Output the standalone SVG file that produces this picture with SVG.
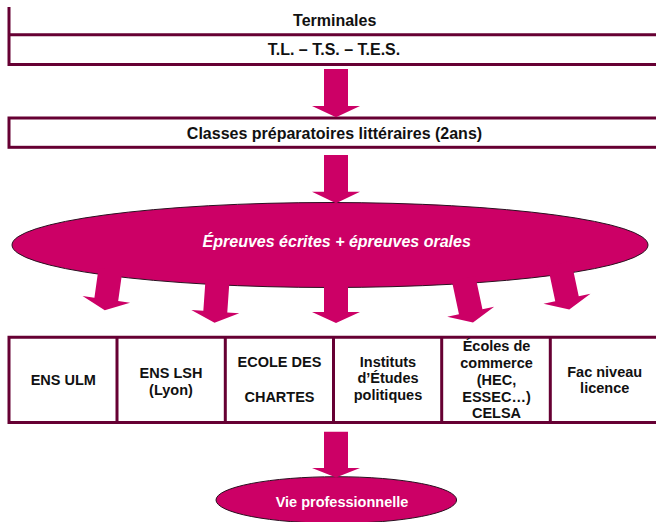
<svg xmlns="http://www.w3.org/2000/svg" width="656" height="522" viewBox="0 0 656 522">
<style>
.bx{fill:none;stroke:#660033;stroke-width:3}
.t{font-family:"Liberation Sans",Arial,sans-serif;font-weight:bold;fill:#111;text-anchor:middle}
.t16{font-size:16px}
.t14{font-size:14.5px}
.w{fill:#fff}
.ell{fill:#CC0066;stroke:#2a1020;stroke-width:1}
.arr{fill:#CC0066}
</style>
<rect width="656" height="522" fill="#fff"/>
<g id="terminales">
<path class="bx" d="M9,7V64.5H658M7.5,34.7H658"/>
<text class="t t16" x="334.7" y="26">Terminales</text>
<text class="t t16" x="334" y="55">T.L. – T.S. – T.E.S.</text>
</g>
<g id="classes-prepa">
<rect class="bx" x="9" y="118" width="652" height="29.3"/>
<text class="t t16" x="334.5" y="139.3">Classes préparatoires littéraires (2ans)</text>
</g>
<g id="epreuves">
<ellipse class="ell" cx="330" cy="245" rx="318" ry="42.5"/>
<text class="t t16 w" x="336.7" y="246.7" font-style="italic">Épreuves écrites + épreuves orales</text>
</g>
<g id="ecoles">
<path class="bx" d="M9,337.3H658M9,422.4H658M9,335.8V424M117,337.3V422.4M225.3,337.3V422.4M333.5,337.3V422.4M441.7,337.3V422.4M550.3,337.3V422.4"/>
<g id="ens-ulm"><text class="t t14" x="63.3" y="385">ENS ULM</text></g>
<g id="ens-lsh"><text class="t t14" x="171" y="378.3">ENS LSH</text><text class="t t14" x="171" y="395">(Lyon)</text></g>
<g id="ecole-chartes"><text class="t t14" x="279.5" y="366.7">ECOLE DES</text><text class="t t14" x="279.5" y="401.7">CHARTES</text></g>
<g id="instituts"><text class="t t14" x="388" y="366.7">Instituts</text><text class="t t14" x="388" y="383.3">d’Études</text><text class="t t14" x="388" y="400">politiques</text></g>
<g id="ecoles-commerce"><text class="t t14" x="496.5" y="351.3">Écoles de</text><text class="t t14" x="496.5" y="368">commerce</text><text class="t t14" x="496.5" y="384.7">(HEC,</text><text class="t t14" x="496.5" y="401.5">ESSEC…)</text><text class="t t14" x="496.5" y="418.3">CELSA</text></g>
<g id="fac"><text class="t t14" x="604.7" y="376.7">Fac niveau</text><text class="t t14" x="604.7" y="393.3">licence</text></g>
</g>
<g id="vie-pro">
<ellipse class="ell" cx="336.3" cy="500" rx="120.3" ry="23.3"/>
<text class="t t14 w" x="342" y="507.3">Vie professionnelle</text>
</g>
<g id="connectors">
<path class="arr" transform="translate(336,106)" d="M-12,-37H12V0H24L0,11.3L-24,0H-12Z"/>
<path class="arr" transform="translate(336,191.7)" d="M-12,-36.7H12V0H24L0,11.6L-24,0H-12Z"/>
<path class="arr" transform="translate(106.3,299.3) rotate(8)" d="M-12,-30H12V0H24L0,11L-24,0H-12Z"/>
<path class="arr" transform="translate(215.3,311.7) rotate(4)" d="M-12,-32H12V0H24L0,11L-24,0H-12Z"/>
<path class="arr" transform="translate(336,312)" d="M-12,-31H12V0H24L0,11L-24,0H-12Z"/>
<path class="arr" transform="translate(470.7,311.7) rotate(-12)" d="M-12,-34H12V0H24L0,11L-24,0H-12Z"/>
<path class="arr" transform="translate(567,298.7) rotate(-12)" d="M-12,-36H12V0H24L0,11L-24,0H-12Z"/>
<path class="arr" transform="translate(336,468)" d="M-12,-36.3H12V0H24L0,9.5L-24,0H-12Z"/>
</g>
</svg>
